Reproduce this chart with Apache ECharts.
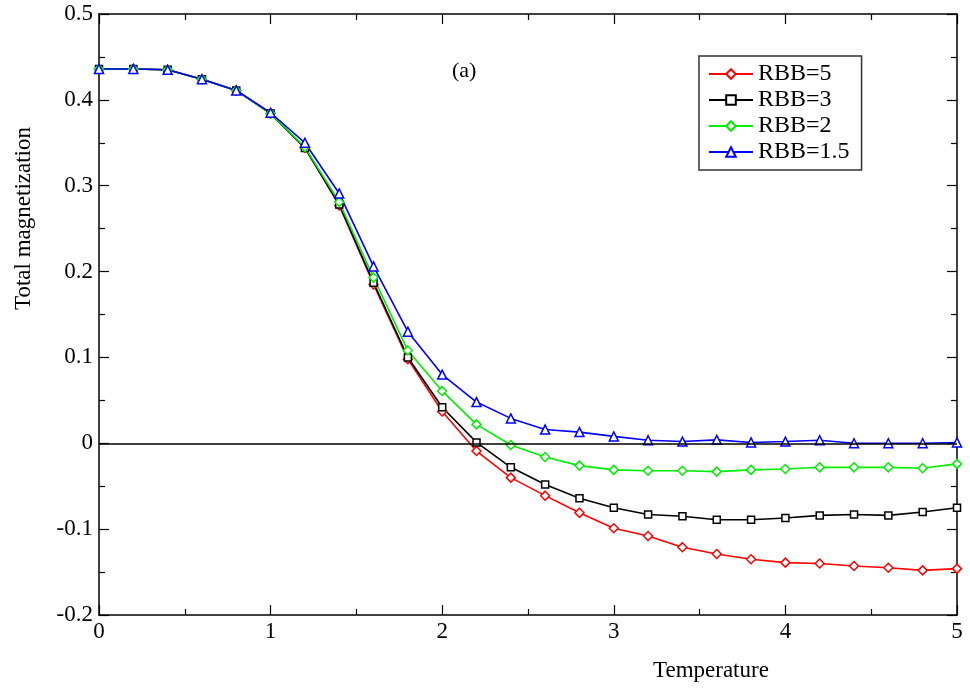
<!DOCTYPE html>
<html><head><meta charset="utf-8">
<script src="https://cdn.jsdelivr.net/npm/echarts@6/dist/echarts.min.js"></script>
<style>html,body{margin:0;padding:0;background:#fff}#c{width:970px;height:693px}</style>
</head><body><div id="c"></div>
<script>
var temperature = [0,0.2,0.4,0.6,0.8,1.0,1.2,1.4,1.6,1.8,2.0,2.2,2.4,2.6,2.8,3.0,3.2,3.4,3.6,3.8,4.0,4.2,4.4,4.6,4.8,5.0];
var rbb5  = [0.436,0.436,0.435,0.424,0.411,0.384,0.344,0.277,0.185,0.098,0.037,-0.009,-0.040,-0.061,-0.081,-0.099,-0.108,-0.121,-0.129,-0.135,-0.139,-0.140,-0.143,-0.145,-0.148,-0.146];
var rbb3  = [0.436,0.436,0.435,0.424,0.411,0.384,0.344,0.278,0.187,0.100,0.042,0.001,-0.028,-0.048,-0.064,-0.075,-0.083,-0.085,-0.089,-0.089,-0.087,-0.084,-0.083,-0.084,-0.080,-0.075];
var rbb2  = [0.436,0.436,0.435,0.424,0.411,0.384,0.345,0.281,0.193,0.108,0.061,0.022,-0.002,-0.016,-0.026,-0.031,-0.032,-0.032,-0.033,-0.031,-0.030,-0.028,-0.028,-0.028,-0.029,-0.024];
var rbb15 = [0.436,0.436,0.435,0.424,0.411,0.385,0.350,0.291,0.206,0.130,0.080,0.048,0.029,0.016,0.013,0.008,0.0035,0.002,0.004,0.001,0.002,0.0035,0.000,0.000,0.000,0.001];
var seriesNames = ['RBB=5','RBB=3','RBB=2','RBB=1.5'];
var xTicks = [0,1,2,3,4,5];
var yTicks = [-0.2,-0.1,0,0.1,0.2,0.3,0.4,0.5];

var font = 'Liberation Serif';
function pairs(arr){ return temperature.map(function(t,i){ return [t, arr[i]]; }); }
function mk(name, data, color, symbol, size){
  return {
    name: name, type: 'line', data: pairs(data),
    symbol: symbol, symbolSize: size, showSymbol: true,
    itemStyle: {color: '#fff', borderColor: color, borderWidth: 1.5},
    lineStyle: {color: color, width: 1.6},
    emphasis: {disabled: true}, animation: false, clip: false
  };
}
var ser = [
  mk(seriesNames[0], rbb5, '#ff0000', 'diamond', 9),
  mk(seriesNames[1], rbb3, '#000000', 'rect', 7),
  mk(seriesNames[2], rbb2, '#00ee00', 'diamond', 9),
  mk(seriesNames[3], rbb15, '#0000ff', 'triangle', 9)
];
ser[0].markLine = {silent: true, symbol: 'none', label: {show: false},
  lineStyle: {color: '#000', width: 1.5, type: 'solid'}, data: [{yAxis: 0}], animation: false};

var axisLineStyle = {onZero: false, lineStyle: {color: '#000', width: 1.5}};
var tick = {inside: true, length: 10, lineStyle: {color: '#000', width: 1.2}};
var minor = {show: true, splitNumber: 2, length: 6, lineStyle: {color: '#000', width: 1.2}};
var chart = echarts.init(document.getElementById('c'));
chart.setOption({
  animation: false,
  backgroundColor: '#fff',
  grid: {left: 99, right: 13, top: 14, bottom: 78, containLabel: false},
  legend: {
    data: seriesNames,
    orient: 'vertical', left: 699, top: 56,
    padding: [6, 12, 6, 9], itemGap: 2, itemWidth: 44, itemHeight: 12,
    borderColor: '#333', borderWidth: 1.5, backgroundColor: '#fff',
    textStyle: {fontFamily: font, fontSize: 24, color: '#000'}
  },
  xAxis: [{
    type: 'value', min: 0, max: 5, interval: 1,
    axisLine: axisLineStyle, axisTick: tick, minorTick: minor,
    splitLine: {show: false}, minorSplitLine: {show: false},
    axisLabel: {fontFamily: font, fontSize: 23, color: '#000', margin: 5,
      formatter: function(v){ return xTicks.indexOf(v) >= 0 ? String(v) : ''; }}
  }, {
    type: 'value', position: 'top', min: 0, max: 5, interval: 1,
    axisLine: axisLineStyle, axisTick: tick, minorTick: minor,
    splitLine: {show: false}, axisLabel: {show: false}
  }],
  yAxis: [{
    type: 'value', min: -0.2, max: 0.5, interval: 0.1,
    axisLine: axisLineStyle, axisTick: tick, minorTick: minor,
    splitLine: {show: false},
    axisLabel: {fontFamily: font, fontSize: 23, color: '#000', margin: 6,
      formatter: function(v){ var r = Math.round(v*10)/10; return r === 0 ? '0' : String(r); }}
  }, {
    type: 'value', position: 'right', min: -0.2, max: 0.5, interval: 0.1,
    axisLine: axisLineStyle, axisTick: tick, minorTick: minor,
    splitLine: {show: false}, axisLabel: {show: false}
  }],
  graphic: [
    {type: 'text', left: 452, top: 60, style: {text: '(a)', font: '22px "Liberation Serif"', fill: '#000'}},
    {type: 'text', left: 653, top: 659, style: {text: 'Temperature', font: '23px "Liberation Serif"', fill: '#000'}},
    {type: 'text', x: 12, y: 310, rotation: Math.PI/2, style: {text: 'Total magnetization', font: '23px "Liberation Serif"', fill: '#000'}}
  ],
  series: ser
});
</script>
</body></html>
